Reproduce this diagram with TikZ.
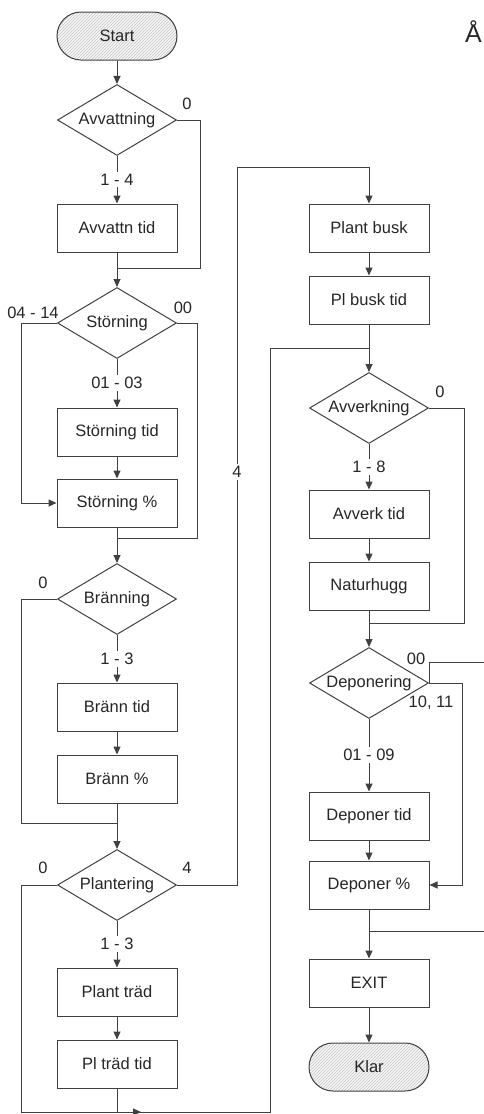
\documentclass[tikz,border=0pt]{standalone}
\usepackage{fontspec}
\setmainfont{Liberation Sans}
\usetikzlibrary{shapes.geometric,arrows.meta,patterns}
\begin{document}
\begin{tikzpicture}[x=1pt,y=-1pt,
  every node/.style={text=black!85,font=\fontsize{16.5}{19}\selectfont},
  ln/.style={draw=black!75,line width=1pt},
  arr/.style={ln,-{Triangle[length=8pt,width=7pt]}},
  stepbox/.style={ln,rectangle,minimum width=120pt,minimum height=48pt,inner sep=0pt},
  decbox/.style={ln,diamond,aspect=1.7,inner sep=0pt,minimum width=119pt,minimum height=71pt},
  termbox/.style={ln,rectangle,rounded corners=24pt,minimum width=120pt,minimum height=48pt,
     preaction={fill=gray!6},pattern=north east lines,pattern color=gray!45},
  lbl/.style={fill=white,inner sep=2pt},
  tag/.style={inner sep=0pt}]
\useasboundingbox (0,0) rectangle (483,1114);
% left column
\node[termbox] (start) at (117,36) {Start};
\node[decbox] (avv) at (117,120) {Avvattning};
\node[stepbox] (avvtid) at (117,228) {Avvattn tid};
\node[decbox] (stor) at (117,323) {Störning};
\node[stepbox] (stortid) at (117,432) {Störning tid};
\node[stepbox] (storpct) at (117,503) {Störning \%};
\node[decbox] (bran) at (117,599) {Bränning};
\node[stepbox] (brantid) at (117,707) {Bränn tid};
\node[stepbox] (branpct) at (117,779) {Bränn \%};
\node[decbox] (plant) at (117,885) {Plantering};
\node[stepbox] (pltrad) at (117,992) {Plant träd};
\node[stepbox] (pltradtid) at (117,1064) {Pl träd tid};
% right column
\node[stepbox] (plbusk) at (369,228) {Plant busk};
\node[stepbox] (plbusktid) at (369,300) {Pl busk tid};
\node[decbox] (avverk) at (369,408) {Avverkning};
\node[stepbox] (avverktid) at (369,514) {Avverk tid};
\node[stepbox] (natur) at (369,586) {Naturhugg};
\node[decbox] (depon) at (369,683) {Deponering};
\node[stepbox] (depontid) at (369,816) {Deponer tid};
\node[stepbox] (deponpct) at (369,885) {Deponer \%};
\node[stepbox] (exit) at (369,983) {EXIT};
\node[termbox] (klar) at (369,1067) {Klar};
% title fragment
\node[tag,anchor=base west,font=\fontsize{25}{28}\selectfont] (title) at (465,42) {Å};
% junctions
\coordinate (j1) at (117,268);
\coordinate (j2) at (117,538);
\coordinate (j3) at (117,823);
\coordinate (j4) at (117,1112);
\coordinate (j5) at (369,348);
\coordinate (j6) at (369,623);
\coordinate (j7) at (369,931);
% left connectors
\draw[arr] (start) -- (avv);
\draw[arr] (avv) -- node[lbl]{1 - 4} (avvtid);
\draw[ln] (avv.east) -- (200,120) |- (j1);
\draw[arr] (avvtid) -- (stor);
\draw[arr] (stor.west) -- (21,323) |- (storpct.west);
\draw[ln] (stor.east) -- (197,323) |- (j2);
\draw[arr] (stor) -- node[lbl]{01 - 03} (stortid);
\draw[arr] (stortid) -- (storpct);
\draw[arr] (storpct) -- (bran);
\draw[ln] (bran.west) -- (21,599) |- (j3);
\draw[arr] (bran) -- node[lbl]{1 - 3} (brantid);
\draw[arr] (brantid) -- (branpct);
\draw[arr] (branpct) -- (plant);
\draw[arr] (plant) -- node[lbl]{1 - 3} (pltrad);
\draw[arr] (pltrad) -- (pltradtid);
\draw[ln] (pltradtid) -- (j4);
\draw[arr] (j4) -- ++(24,0);
\draw[ln] (plant.west) -- (21,885) -- (21,1112) -- (270,1112) -- (270,348) -- (j5);
\draw[arr] (plant.east) -- (237,885) -- node[lbl,pos=0.575]{4} (237,167) -| (plbusk.north);
% right connectors
\draw[arr] (plbusk) -- (plbusktid);
\draw[arr] (plbusktid) -- (avverk);
\draw[ln] (avverk.east) -- (464,408) |- (j6);
\draw[arr] (avverk) -- node[lbl]{1 - 8} (avverktid);
\draw[arr] (avverktid) -- (natur);
\draw[arr] (natur) -- (depon);
\draw[ln] (depon.east) -- (429,662) -- (484,662) -- (484,931) -- (j7);
\draw[arr] (depon.east) -- (462,683) |- (deponpct.east);
\draw[arr] (depon) -- node[lbl]{01 - 09} (depontid);
\draw[arr] (depontid) -- (deponpct);
\draw[arr] (deponpct) -- (exit);
\draw[arr] (exit) -- (klar);
% branch tags
\node[tag] (t1) at (187,104) {0};
\node[tag] (t2) at (33,313) {04 - 14};
\node[tag] (t3) at (183,308) {00};
\node[tag] (t4) at (43,583) {0};
\node[tag] (t5) at (43,868) {0};
\node[tag] (t6) at (187,868) {4};
\node[tag] (t7) at (440,392) {0};
\node[tag] (t8) at (416,659) {00};
\node[tag] (t9) at (431,703) {10, 11};
\end{tikzpicture}
\end{document}
